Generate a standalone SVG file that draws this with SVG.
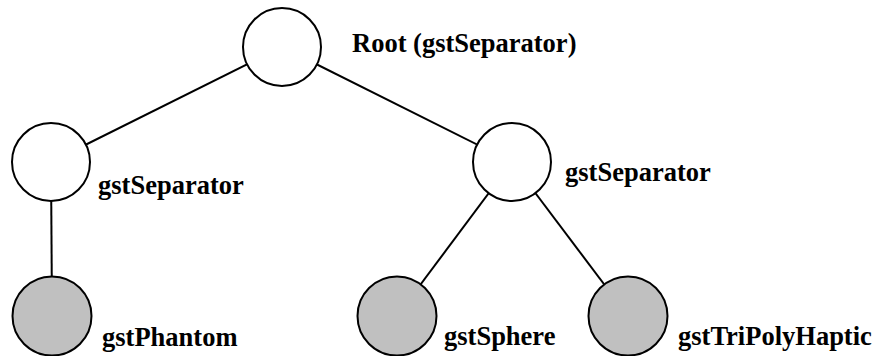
<svg xmlns="http://www.w3.org/2000/svg" width="874" height="356" viewBox="0 0 874 356">
  <style>
    .edge { stroke: #000; stroke-width: 2; fill: none; }
    .node { stroke: #000; stroke-width: 2; }
    .group { fill: #fff; }
    .leaf { fill: #c0c0c0; }
    .label { font-family: "Liberation Serif", "Times New Roman", serif; font-weight: bold; font-size: 26.5px; fill: #000; }
  </style>
  <rect width="874" height="356" fill="#fff"/>

  <!-- tree edges, drawn centre to centre under the nodes -->
  <g id="edges">
    <line class="edge" x1="282" y1="47" x2="51" y2="162"/>
    <line class="edge" x1="282" y1="47" x2="512" y2="162"/>
    <line class="edge" x1="51" y1="162" x2="52" y2="316"/>
    <line class="edge" x1="512" y1="162" x2="397" y2="316"/>
    <line class="edge" x1="512" y1="162" x2="628" y2="316"/>
  </g>

  <g id="root">
    <circle class="node group" cx="282" cy="47" r="39"/>
    <text class="label" x="352" y="52">Root (gstSeparator)</text>
  </g>

  <g id="separator-left">
    <circle class="node group" cx="51" cy="162" r="39"/>
    <text class="label" x="98" y="194">gstSeparator</text>
  </g>

  <g id="separator-right">
    <circle class="node group" cx="512" cy="162" r="39"/>
    <text class="label" x="565" y="181">gstSeparator</text>
  </g>

  <g id="phantom">
    <circle class="node leaf" cx="52" cy="316" r="39.5"/>
    <text class="label" x="102" y="346">gstPhantom</text>
  </g>

  <g id="sphere">
    <circle class="node leaf" cx="397" cy="316" r="39.5"/>
    <text class="label" x="444" y="345">gstSphere</text>
  </g>

  <g id="tripolyhaptic">
    <circle class="node leaf" cx="628" cy="316" r="39.5"/>
    <text class="label" x="678" y="345">gstTriPolyHaptic</text>
  </g>
</svg>
